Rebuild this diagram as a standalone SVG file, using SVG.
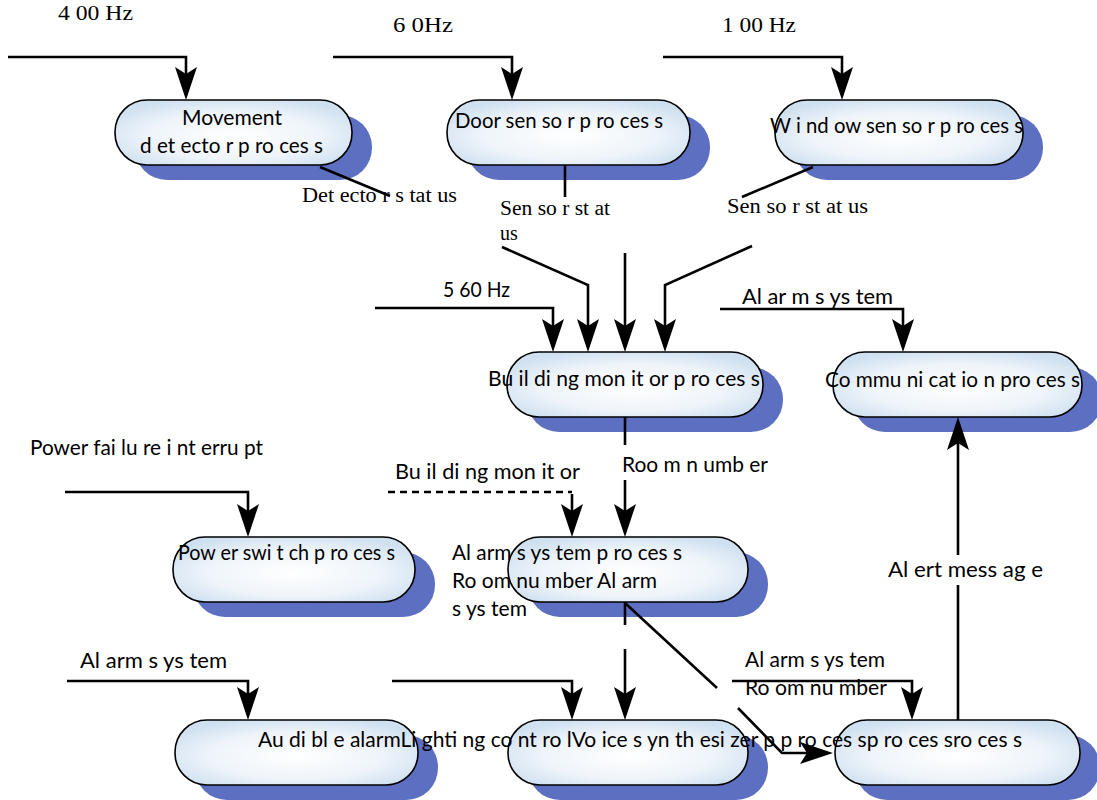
<svg xmlns="http://www.w3.org/2000/svg" width="1097" height="800" viewBox="0 0 1097 800">
<defs>
<radialGradient id="fill" cx="0.5" cy="0.55" r="0.6">
<stop offset="0" stop-color="#ffffff"/>
<stop offset="0.6" stop-color="#eef4fa"/>
<stop offset="1" stop-color="#cfe0f0"/>
</radialGradient>
<marker id="arr" markerUnits="userSpaceOnUse" markerWidth="34" markerHeight="22" viewBox="0 0 34 22" refX="28" refY="11" orient="auto">
<path d="M0,0 L33,11 L0,22 L7,11 Z" fill="#000"/>
</marker>
</defs>
<style>
.sh{fill:#5d6fc0}
.nd{fill:url(#fill);stroke:#000;stroke-width:1.6}
.t{font-family:Lato,"Noto Sans",sans-serif;font-size:21px;fill:#000}
.s{font-family:"Liberation Serif",serif;font-size:20px;fill:#000}
.c{fill:none;stroke:#000;stroke-width:2.6}
.a{marker-end:url(#arr)}
</style>
<rect width="1097" height="800" fill="#fff"/>

<g id="n-movement">
<rect class="sh" x="135" y="115" width="237" height="65" rx="32"/>
<rect class="nd" x="115" y="100" width="237" height="65" rx="32"/>
<text class="t" x="182" y="125" textLength="100" lengthAdjust="spacingAndGlyphs">Movement</text>
<text class="t" x="140" y="153" textLength="183" lengthAdjust="spacingAndGlyphs">d et ecto r p ro ces s</text>
</g>
<g id="n-door">
<rect class="sh" x="467" y="115" width="243" height="65" rx="32"/>
<rect class="nd" x="447" y="100" width="243" height="65" rx="32"/>
<text class="t" x="455" y="128" textLength="208" lengthAdjust="spacingAndGlyphs">Door sen so r p ro ces s</text>
</g>
<g id="n-window">
<rect class="sh" x="795" y="115" width="248" height="65" rx="32"/>
<rect class="nd" x="775" y="100" width="248" height="65" rx="32"/>
<text class="t" x="770" y="133" textLength="253" lengthAdjust="spacingAndGlyphs">W i nd ow sen so r p ro ces s</text>
</g>
<g id="n-building">
<rect class="sh" x="527" y="367" width="256" height="65" rx="32"/>
<rect class="nd" x="507" y="352" width="256" height="65" rx="32"/>
<text class="t" x="488" y="386" textLength="272" lengthAdjust="spacingAndGlyphs">Bu il di ng mon it or p ro ces s</text>
</g>
<g id="n-communication">
<rect class="sh" x="853" y="367" width="249" height="65" rx="32"/>
<rect class="nd" x="833" y="352" width="249" height="65" rx="32"/>
<text class="t" x="825" y="387" textLength="255" lengthAdjust="spacingAndGlyphs">Co mmu ni cat io n pro ces s</text>
</g>
<g id="n-power">
<rect class="sh" x="193" y="552" width="242" height="65" rx="32"/>
<rect class="nd" x="173" y="537" width="242" height="65" rx="32"/>
<text class="t" x="178" y="560" textLength="217" lengthAdjust="spacingAndGlyphs">Pow er swi t ch p ro ces s</text>
</g>
<g id="n-alarm">
<rect class="sh" x="528" y="552" width="240" height="65" rx="32"/>
<rect class="nd" x="508" y="537" width="240" height="65" rx="32"/>
<text class="t" x="452" y="560" textLength="230" lengthAdjust="spacingAndGlyphs">Al arm s ys tem p ro ces s</text>
<text class="t" x="452" y="588" textLength="205" lengthAdjust="spacingAndGlyphs">Ro om nu mber Al arm</text>
<text class="t" x="452" y="616" textLength="75" lengthAdjust="spacingAndGlyphs">s ys tem</text>
</g>
<g id="n-audible">
<rect class="sh" x="195" y="735" width="243" height="65" rx="32"/>
<rect class="nd" x="175" y="720" width="243" height="65" rx="32"/>
</g>
<g id="n-lighting">
<rect class="sh" x="528" y="735" width="240" height="65" rx="32"/>
<rect class="nd" x="508" y="720" width="240" height="65" rx="32"/>
</g>
<g id="n-voice">
<rect class="sh" x="855" y="735" width="245" height="65" rx="32"/>
<rect class="nd" x="835" y="720" width="245" height="65" rx="32"/>
</g>

<g id="connectors">
<path class="c a" d="M8,57 H186 V95"/>
<path class="c a" d="M333,57 H512 V95"/>
<path class="c a" d="M663,57 H842 V95"/>
<path class="c" d="M320,167 L390,196"/>
<path class="c" d="M565,165 V197"/>
<path class="c" d="M813,167 L742,197"/>
<path class="c a" d="M375,308 H553 V347"/>
<path class="c a" d="M502,247 L588,285 V347"/>
<path class="c a" d="M625,253 V347"/>
<path class="c a" d="M752,246 L665,285 V347"/>
<path class="c a" d="M720,309 H903 V347"/>
<path class="c" d="M625,417 V445"/>
<path class="c a" d="M625,480 V532"/>
<path class="c a" d="M65,492 H248 V532"/>
<path class="c" d="M388,492 H572" stroke-dasharray="7,5"/>
<path class="c a" d="M572,494 V532"/>
<path class="c a" d="M67,681 H248 V715"/>
<path class="c a" d="M392,681 H572 V715"/>
<path class="c" d="M625,602 V625"/>
<path class="c a" d="M625,649 V715"/>
<path class="c" d="M625,603 L717,688"/>
<path class="c a" d="M738,708 L782,753 H828"/>
<path class="c a" d="M732,681 H912 V715"/>
<path class="c" d="M958,720 V585"/>
<path class="c a" d="M958,555 V422"/>
</g>

<g id="labels">
<text class="s" x="58" y="20" textLength="75" lengthAdjust="spacingAndGlyphs">4 00 Hz</text>
<text class="s" x="393" y="32" textLength="60" lengthAdjust="spacingAndGlyphs">6 0Hz</text>
<text class="s" x="722" y="32" textLength="74" lengthAdjust="spacingAndGlyphs">1 00 Hz</text>
<text class="s" x="302" y="202" textLength="155" lengthAdjust="spacingAndGlyphs">Det ecto r s tat us</text>
<text class="s" x="500" y="215" textLength="110" lengthAdjust="spacingAndGlyphs">Sen so r st at</text>
<text class="s" x="500" y="240">us</text>
<text class="s" x="727" y="213" textLength="141" lengthAdjust="spacingAndGlyphs">Sen so r st at us</text>
<text class="t" x="443" y="297" textLength="67" lengthAdjust="spacingAndGlyphs">5 60 Hz</text>
<text class="t" x="742" y="304" textLength="151" lengthAdjust="spacingAndGlyphs">Al ar m s ys tem</text>
<text class="t" x="30" y="455" textLength="233" lengthAdjust="spacingAndGlyphs">Power fai lu re i nt erru pt</text>
<text class="t" x="395" y="479" textLength="185" lengthAdjust="spacingAndGlyphs">Bu il di ng mon it or</text>
<text class="t" x="622" y="472" textLength="146" lengthAdjust="spacingAndGlyphs">Roo m n umb er</text>
<text class="t" x="888" y="577" textLength="155" lengthAdjust="spacingAndGlyphs">Al ert  mess ag e</text>
<text class="t" x="80" y="668" textLength="147" lengthAdjust="spacingAndGlyphs">Al arm s ys tem</text>
<text class="t" x="745" y="667" textLength="140" lengthAdjust="spacingAndGlyphs">Al arm s ys tem</text>
<text class="t" x="745" y="695" textLength="142" lengthAdjust="spacingAndGlyphs">Ro om nu mber</text>
<text class="t" x="258" y="747" textLength="764" lengthAdjust="spacingAndGlyphs">Au di bl e alarmLi ghti ng co nt ro lVo ice s yn th esi zer p p ro ces sp ro ces sro ces s</text>
</g>
</svg>
